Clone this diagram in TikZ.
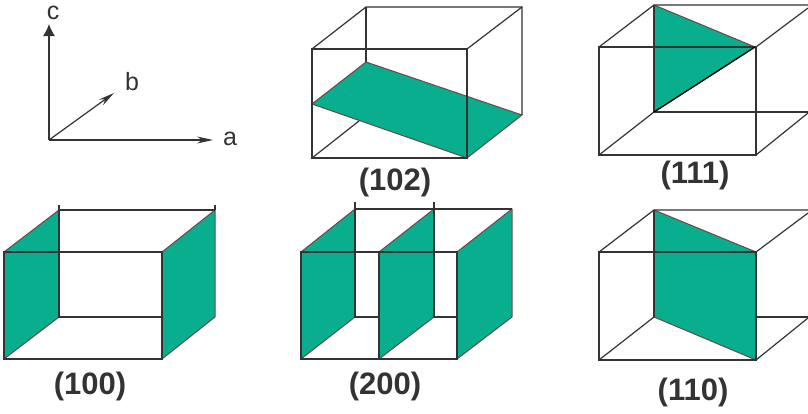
\documentclass[tikz,border=0pt]{standalone}
\usepackage{fontspec}
\setmainfont{Liberation Sans}
\usepackage{xcolor}
\usetikzlibrary{arrows.meta}
\definecolor{planegreen}{HTML}{08AE8E}
\definecolor{planeedge}{HTML}{6A4A42}
\definecolor{cubeline}{HTML}{333333}
\tikzset{
    cube/.style={draw=cubeline, line width=1.2pt},
    plane/.style={fill=planegreen, draw=planeedge, line width=1.0pt, line join=round},
    axis/.style={draw=cubeline, line width=1.2pt},
    axislabel/.style={font=\fontsize{25}{25}\selectfont, text=black!80, inner sep=0pt},
    millerlabel/.style={font=\fontsize{31}{31}\selectfont\bfseries, text=black!80, inner sep=0pt},
}

\begin{document}
\begin{tikzpicture}[x=1pt, y=-1pt]
\useasboundingbox (0,0) rectangle (808,413);
\clip (0,0) rectangle (808,413);
% axes
\coordinate (origin) at (49,140);
\coordinate (tipa) at (213,140);
\coordinate (tipb) at (114,93);
\coordinate (tipc) at (49,24);
\node[axislabel] (labela) at (230,139) {a};
\node[axislabel] (labelb) at (132,82) {b};
\node[axislabel] (labelc) at (53,13) {c};
\draw[axis, -{Stealth[length=16pt, width=7pt]}] (origin) -- (tipa);
\draw[axis, -{Stealth[length=16pt, width=7pt]}] (origin) -- (tipb);
\draw[axis, -{Latex[length=12pt, width=12pt]}] (origin) -- (tipc);
% (102) plane lying through the box
\draw[plane] (312,104) -- (366,62) -- (522,115) -- (467,158) -- cycle;
\draw[cube] (312,49) rectangle (467,158);
\draw[cube] (312,49) -- (366,7) -- (522,7) -- (522,115);
\draw[cube] (467,49) -- (522,7);
\draw[cube] (366,7) -- (366,62);
\draw[cube] (312,158) -- (359,121);
\node[millerlabel] (label102) at (395,182) {(102)};
% (111) triangle, box runs off the right edge
\draw[plane] (654,5) -- (755,47) -- (654,112) -- cycle;
\draw[cube] (599,47) rectangle (756,155);
\draw[cube] (599,47) -- (654,5) -- (808,5);
\draw[cube] (654,5) -- (654,112) -- (808,112);
\draw[cube] (599,155) -- (654,112);
\draw[cube] (756,47) -- (808,8);
\draw[cube] (756,155) -- (808,113);
\draw[black, line width=1.3pt] (654,112) -- (755,47);
\node[millerlabel] (label111) at (695,175) {(111)};
% (100) two end faces
\draw[plane] (4,252) -- (59,210) -- (59,317) -- (4,359) -- cycle;
\draw[plane] (162,252) -- (215,210) -- (215,317) -- (162,359) -- cycle;
\draw[cube] (4,252) rectangle (162,359);
\draw[cube] (59,205) -- (59,317) -- (162,317);
\draw[cube] (59,210) -- (215,210);
\draw[cube] (215,205) -- (215,210);
\node[millerlabel] (label100) at (90,386) {(100)};
% (200) three planes
\draw[plane] (301,252) -- (355,209) -- (355,317) -- (301,359) -- cycle;
\draw[plane] (379,252) -- (434,209) -- (434,317) -- (379,359) -- cycle;
\draw[plane] (457,252) -- (512,209) -- (512,317) -- (457,359) -- cycle;
\draw[cube] (301,252) rectangle (457,359);
\draw[cube] (355,202) -- (355,209) -- (512,209);
\draw[cube] (434,202) -- (434,317);
\draw[cube] (355,209) -- (355,317) -- (379,317);
\draw[cube] (434,317) -- (457,317);
\draw[cube] (379,252) -- (379,359);
\node[millerlabel] (label200) at (385,386) {(200)};
% (110) diagonal plane, box runs off the right edge
\draw[plane] (654,210) -- (756,252) -- (756,360) -- (654,317) -- cycle;
\draw[cube] (599,252) rectangle (756,360);
\draw[cube] (599,252) -- (654,210) -- (808,210);
\draw[cube] (654,210) -- (654,317);
\draw[cube] (599,360) -- (654,317);
\draw[cube] (756,252) -- (808,213);
\draw[cube] (756,360) -- (808,318);
\draw[cube] (756,317) -- (808,317);
\node[millerlabel] (label110) at (693,392) {(110)};
\end{tikzpicture}
\end{document}
